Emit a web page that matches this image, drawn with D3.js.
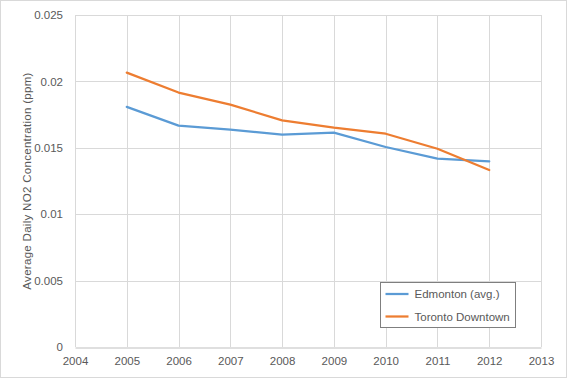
<!DOCTYPE html>
<html>
<head>
<meta charset="utf-8">
<script src="https://cdnjs.cloudflare.com/ajax/libs/d3/7.8.5/d3.min.js"></script>
<style>
	body{margin:0;background:#fff;}
	svg text{font-family:"Liberation Sans", Arial, sans-serif;fill:#595959;}
</style>
</head>
<body>
<div id="chart"></div>
<script>
var years = [2005, 2006, 2007, 2008, 2009, 2010, 2011, 2012];
var edmonton = [0.01808, 0.01667, 0.01637, 0.01599, 0.01614, 0.01506, 0.01418, 0.01398];
var toronto = [0.02066, 0.01916, 0.01825, 0.01707, 0.01652, 0.01606, 0.01493, 0.01333];
var xTicks = [2004, 2005, 2006, 2007, 2008, 2009, 2010, 2011, 2012, 2013];
var yTicks = [0, 0.005, 0.01, 0.015, 0.02, 0.025];
var seriesNames = ["Edmonton (avg.)", "Toronto Downtown"];
var colors = ["#5b9bd5", "#ed7d31"];

var width = 567, height = 379;
var margin = {left:75, right:26, top:15, bottom:32};

var svg = d3.select("#chart").append("svg")
	.attr("width", width)
	.attr("height", height);

// outer chart border
svg.append("rect")
	.attr("x", 0.5).attr("y", 0.5)
	.attr("width", width - 1).attr("height", height - 2)
	.attr("fill", "#fff").attr("stroke", "#d9d9d9");

var x = d3.scaleLinear().domain([2004, 2013]).range([margin.left, width - margin.right]);
var y = d3.scaleLinear().domain([0, 0.025]).range([height - margin.bottom, margin.top]);

// grid
svg.append("g").selectAll("line")
	.data(yTicks.slice(1))
	.enter().append("line")
	.attr("x1", x(2004)).attr("x2", x(2013))
	.attr("y1", function(d){ return Math.round(y(d)) + 0.5; })
	.attr("y2", function(d){ return Math.round(y(d)) + 0.5; })
	.attr("stroke", "#d9d9d9");

svg.append("g").selectAll("line")
	.data(xTicks)
	.enter().append("line")
	.attr("x1", function(d){ return Math.round(x(d)) + 0.5; })
	.attr("x2", function(d){ return Math.round(x(d)) + 0.5; })
	.attr("y1", y(0.025)).attr("y2", y(0))
	.attr("stroke", "#d9d9d9");

// axes
var xAxis = svg.append("g")
	.attr("transform", "translate(0," + (Math.round(y(0)) + 0.5) + ")")
	.call(d3.axisBottom(x).tickValues(xTicks).tickFormat(d3.format("d")).tickSize(0).tickPadding(9));
xAxis.select(".domain").attr("stroke", "#bfbfbf");
xAxis.selectAll("text").style("font-size", "11.5px").attr("fill", "#595959");

var yAxis = svg.append("g")
	.attr("transform", "translate(" + (margin.left - 9) + ",0)")
	.call(d3.axisLeft(y).tickValues(yTicks).tickFormat(function(d){ return d === 0 ? "0" : String(+d.toFixed(3)); }).tickSize(0));
yAxis.select(".domain").remove();
yAxis.selectAll("text").style("font-size", "11.5px").attr("fill", "#595959");

// y title
svg.append("text")
	.attr("transform", "translate(31," + (y(0.0125)) + ") rotate(-90)")
	.attr("text-anchor", "middle")
	.style("font-size", "11.5px")
	.style("letter-spacing", "0.3px")
	.text("Average Daily NO2 Concentration (ppm)");

// lines
var line = d3.line()
	.x(function(d, i){ return x(years[i]); })
	.y(function(d){ return y(d); });

[edmonton, toronto].forEach(function(s, k){
	svg.append("path")
		.datum(s)
		.attr("d", line)
		.attr("fill", "none")
		.attr("stroke", colors[k])
		.attr("stroke-width", 2.25)
		.attr("stroke-linejoin", "round")
		.attr("stroke-linecap", "round");
});

// legend
var legend = svg.append("g").attr("transform", "translate(380.5,282.5)");
legend.append("rect")
	.attr("width", 135).attr("height", 45)
	.attr("fill", "#fff").attr("stroke", "#7f7f7f");
seriesNames.forEach(function(name, k){
	var ly = 11.5 + k * 22.5;
	legend.append("line")
		.attr("x1", 5).attr("x2", 28)
		.attr("y1", ly).attr("y2", ly)
		.attr("stroke", colors[k]).attr("stroke-width", 2.25);
	legend.append("text")
		.attr("x", 34).attr("y", ly)
		.attr("dy", "0.35em")
		.style("font-size", "11.5px")
		.text(name);
});
</script>
</body>
</html>
